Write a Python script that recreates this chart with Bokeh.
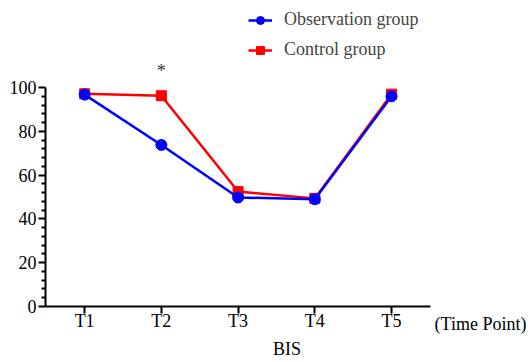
from bokeh.plotting import figure
from bokeh.models import Legend, LegendItem, FixedTicker, Range1d, LinearAxis, Label
from bokeh.embed import file_html
from bokeh.resources import INLINE

time_points = ["T1", "T2", "T3", "T4", "T5"]
x_pos = [1, 2, 3, 4, 5]
observation = [96.8, 73.8, 49.8, 49.0, 96.0]
control = [97.2, 96.3, 52.5, 49.4, 97.0]
y_ticks = [0, 20, 40, 60, 80, 100]
sig_points = [2]
sig_y = 107.8

FONT = "serif"

p = figure(width=528, height=362, output_backend="svg", toolbar_location=None,
           x_range=Range1d(0.49, 6.785), y_range=Range1d(0, 139.8),
           min_border_left=45, min_border_right=0, min_border_top=0, min_border_bottom=56)
p.outline_line_color = None
p.grid.visible = False
p.background_fill_color = "white"
p.border_fill_color = "white"

# axes
p.xaxis.ticker = FixedTicker(ticks=x_pos)
p.xaxis.bounds = (0.49, 5.51)
p.xaxis.major_label_overrides = {x: t for x, t in zip(x_pos, time_points)}
p.xaxis.minor_tick_line_color = None
p.yaxis.ticker = FixedTicker(ticks=y_ticks, minor_ticks=[v for v in range(0, 101, 4) if v % 20])
p.yaxis.bounds = (0, 100)
for ax in (p.xaxis, p.yaxis):
    ax.axis_line_width = 2
    ax.axis_line_color = "black"
    ax.major_tick_line_width = 2
    ax.major_tick_line_color = "black"
    ax.major_tick_out = 7
    ax.major_tick_in = 0
    ax.major_label_text_font = FONT
    ax.major_label_text_font_size = "18px"
    ax.major_label_text_color = "black"
p.yaxis.minor_tick_line_width = 2
p.yaxis.minor_tick_line_color = "black"
p.yaxis.minor_tick_out = 4
p.yaxis.minor_tick_in = 0
p.xaxis.major_label_standoff = -3
p.yaxis.major_label_standoff = 2

# second axis below: "(Time Point)" label and "BIS" title
tp_axis = LinearAxis(ticker=FixedTicker(ticks=[6.16]), bounds=(0.49, 6.48),
                     major_label_overrides={6.16: "(Time Point)"},
                     axis_line_color=None, major_tick_line_color=None,
                     minor_tick_line_color=None, major_tick_out=0, major_tick_in=0,
                     major_label_standoff=-20,
                     major_label_text_font=FONT, major_label_text_font_size="18px",
                     major_label_text_color="black",
                     axis_label="BIS", axis_label_standoff=2,
                     axis_label_text_font=FONT, axis_label_text_font_size="18px",
                     axis_label_text_font_style="normal", axis_label_text_color="black")
p.add_layout(tp_axis, "below")

# series (control drawn first, observation on top)
rc_l = p.line(x_pos, control, color="#ff0000", line_width=2.5)
rc_m = p.scatter(x_pos, control, marker="square", size=10, color="#ff0000")
ro_l = p.line(x_pos, observation, color="#0000ff", line_width=2.5)
ro_m = p.scatter(x_pos, observation, marker="circle", size=11, color="#0000ff")

legend = Legend(items=[LegendItem(label="Observation group", renderers=[ro_l, ro_m]),
                       LegendItem(label="Control group", renderers=[rc_l, rc_m])],
                location=(203, 246), border_line_color=None, background_fill_alpha=0,
                label_text_font=FONT, label_text_font_size="18px", glyph_width=24,
                spacing=9, label_standoff=12, padding=0, margin=0)
p.add_layout(legend, "center")

for s in sig_points:
    p.add_layout(Label(x=s, y=sig_y, text="*", text_font=FONT, text_font_size="18px",
                       text_color="#333333", text_align="center", text_baseline="middle"))

open("out.html", "w").write(file_html(p, INLINE))
